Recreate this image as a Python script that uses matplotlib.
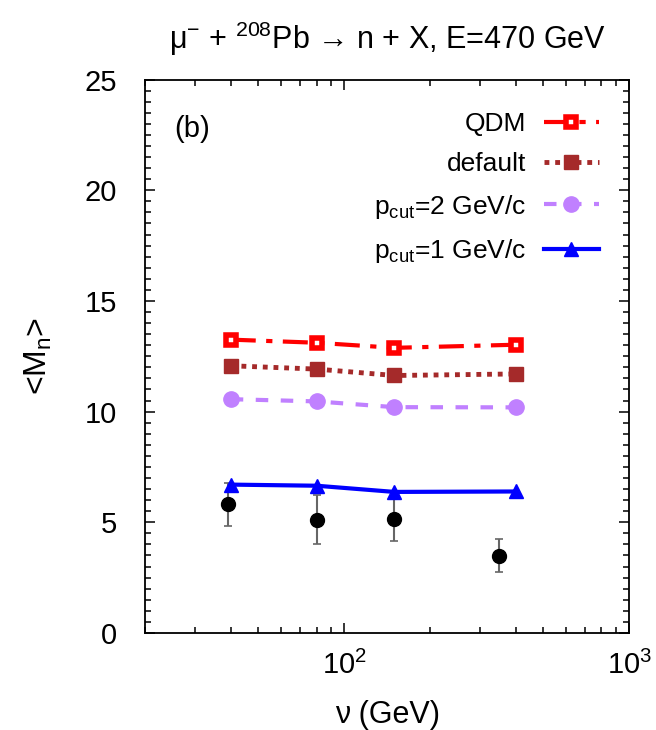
import matplotlib
matplotlib.use('Agg')
import matplotlib.pyplot as plt
from matplotlib.ticker import MultipleLocator, NullFormatter, LogLocator

plt.rcParams['font.family'] = ['Liberation Sans', 'DejaVu Sans']
plt.rcParams['mathtext.fontset'] = 'custom'
plt.rcParams['mathtext.rm'] = 'Liberation Sans'
plt.rcParams['mathtext.it'] = 'Liberation Sans:italic'

# model curves
nu = [40, 80, 150, 400]
qdm = [13.25, 13.11, 12.88, 13.02]
default = [12.07, 11.92, 11.63, 11.70]
pcut2 = [10.56, 10.46, 10.20, 10.19]
pcut1 = [6.70, 6.65, 6.37, 6.39]

# experimental points
nu_exp = [39, 80, 150, 350]
mn_exp = [5.82, 5.11, 5.14, 3.49]
mn_err = [0.97, 1.10, 1.00, 0.75]

fig = plt.figure(figsize=(6.56, 7.30), dpi=100)
ax = fig.add_axes([0.221, 0.133, 0.738, 0.758])

ax.errorbar(nu_exp, mn_exp, yerr=mn_err, fmt='o', color='black', ms=10,
            ecolor='#666666', elinewidth=1.5, capsize=3, capthick=1.2, zorder=2)
ax.plot(nu, qdm, color='red', ls=(0, (6, 2.5, 1.5, 2.5)), lw=3, marker='s', ms=6.5,
        mfc='white', mec='red', mew=4, label='QDM', zorder=3)
ax.plot(nu, default, color='#A52A2A', ls=(0, (1, 1.2)), lw=3.5, marker='s', ms=10.5,
        label='default', zorder=3)
ax.plot(nu, pcut2, color='#C080FF', ls=(0, (3, 3)), lw=3, marker='o', ms=11,
        label=r'p$_{\mathrm{cut}}$=2 GeV/c', zorder=3)
ax.plot(nu, pcut1, color='blue', ls='-', lw=3, marker='^', ms=10,
        label=r'p$_{\mathrm{cut}}$=1 GeV/c', zorder=3)

ax.set_xscale('log')
ax.set_xlim(20, 1000)
ax.set_ylim(0, 25)
ax.yaxis.set_major_locator(MultipleLocator(5))
ax.yaxis.set_minor_locator(MultipleLocator(0.5))
ax.xaxis.set_minor_locator(LogLocator(subs=range(2, 10)))
ax.xaxis.set_minor_formatter(NullFormatter())
ax.tick_params(which='both', direction='in', top=True, right=True, labelsize=21, width=1.1)
ax.tick_params(axis='y', which='major', length=7, pad=20)
ax.tick_params(axis='x', which='major', length=7, pad=13)
ax.tick_params(which='minor', length=4)
for s in ax.spines.values():
    s.set_linewidth(1.3)

ax.set_xlabel('ν (GeV)', fontsize=22, labelpad=14)
ax.set_ylabel(r'<M$_{\mathrm{n}}$>', fontsize=23, labelpad=22)
ax.set_title(r'μ$^{-}$ + $^{208}$Pb → n + X, E=470 GeV', fontsize=22, pad=22)
ax.text(0.06, 0.91, '(b)', transform=ax.transAxes, fontsize=21, va='center')

ax.legend(loc='upper right', frameon=False, markerfirst=False, fontsize=19,
          handlelength=2.05, handletextpad=0.7, labelspacing=0.62, borderaxespad=0.3,
          bbox_to_anchor=(0.975, 0.975))

plt.savefig('out.png', dpi=100)
